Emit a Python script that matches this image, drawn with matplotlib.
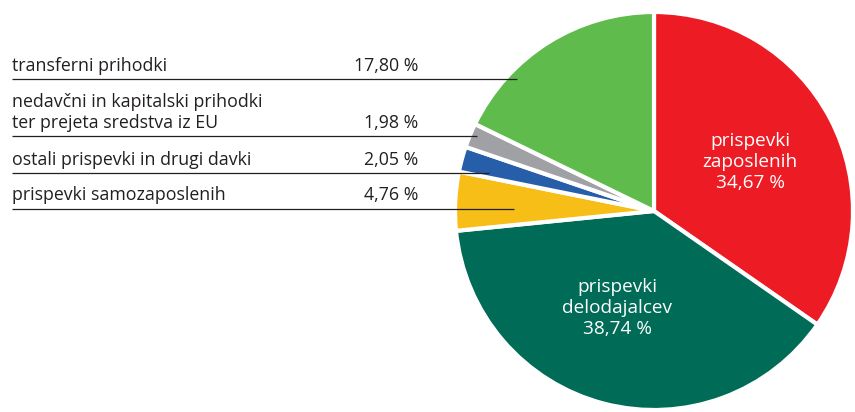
import matplotlib.pyplot as plt

plt.rcParams['font.family'] = ['Open Sans', 'DejaVu Sans']

# deleži prihodkov (v %), v smeri urinega kazalca od vrha
shares = [34.67, 38.74, 4.76, 2.05, 1.98, 17.80]
names = ["prispevki\nzaposlenih", "prispevki\ndelodajalcev",
         "prispevki samozaposlenih", "ostali prispevki in drugi davki",
         "nedavčni in kapitalski prihodki\nter prejeta sredstva iz EU",
         "transferni prihodki"]
colors = ['#ED1C24', '#006B56', '#F6BE17', '#265EAA', '#A0A1A5', '#5EBB4C']

def fmt(v):
    return f"{v:.2f}".replace(".", ",") + " %"

W, H = 855, 412
fig = plt.figure(figsize=(W / 100, H / 100), dpi=100)
ax = fig.add_axes([0, 0, 1, 1])

# pita (y os obrnjena, zato counterclock=True da gre v smeri urinega kazalca)
cx, cy, r = 654, 211, 199
ax.pie(shares, colors=colors, startangle=-90, counterclock=True,
       center=(cx, cy), radius=r, frame=True,
       wedgeprops=dict(edgecolor='white', linewidth=3))
ax.set_xlim(0, W)
ax.set_ylim(H, 0)
ax.axis('off')

# napisi znotraj velikih izsekov
ax.text(750, 162, names[0] + "\n" + fmt(shares[0]), color='white',
        ha='center', va='center', fontsize=13.7, linespacing=1.23)
ax.text(617, 308, names[1] + "\n" + fmt(shares[1]), color='white',
        ha='center', va='center', fontsize=13.7, linespacing=1.23)

# legenda z odčitki na levi
rows = [  # (indeks, y besedila, y črte, x konca črte)
    (5, 66, 79, 517),
    (4, 112.5, 136, 477),
    (3, 160, 173, 489),
    (2, 195, 209, 514),
]
for i, ty, ly, lx in rows:
    ax.text(12, ty, names[i], ha='left', va='center', fontsize=12.8,
            color='#231F20', linespacing=1.22)
    last_y = ty + (10.5 if "\n" in names[i] else 0)
    ax.text(418, last_y, fmt(shares[i]), ha='right', va='center',
            fontsize=12.8, color='#231F20')
    ax.plot([12, lx], [ly, ly], color='#231F20', linewidth=0.9,
            solid_capstyle='butt')

fig.savefig("out.png", dpi=100)
